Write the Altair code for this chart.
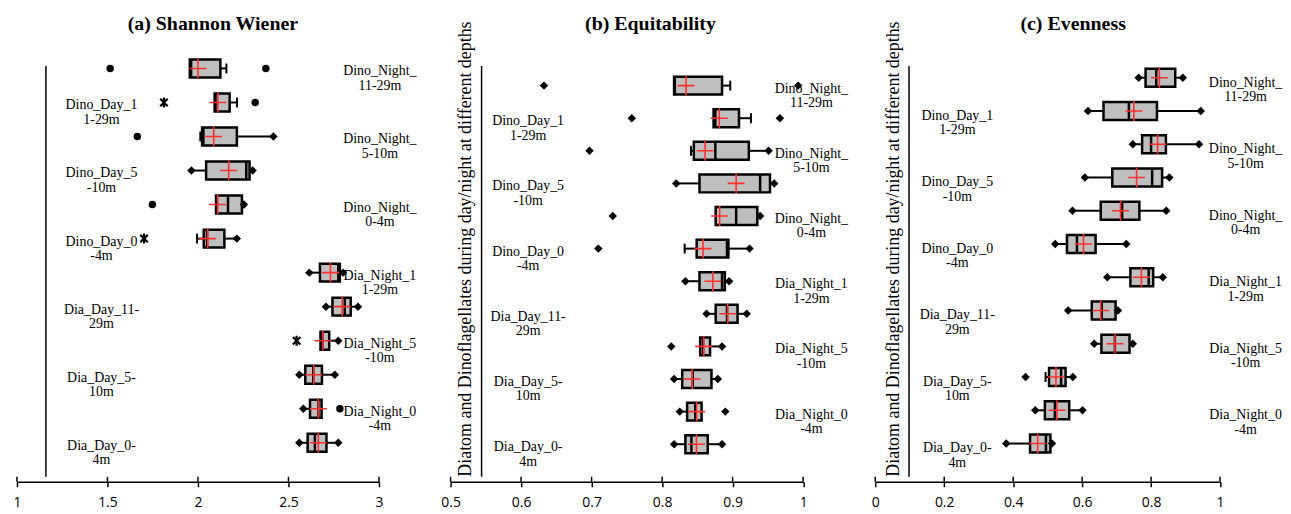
import altair as alt
import pandas as pd

# ---------------- data ----------------
ROWS = ["Dino_Night_11-29m", "Dino_Day_11-29m", "Dino_Night_5-10m", "Dino_Day_5-10m",
        "Dino_Night_0-4m", "Dino_Day_0-4m", "Dia_Night_11-29m", "Dia_Day_11-29m",
        "Dia_Night_5-10m", "Dia_Day_5-10m", "Dia_Night_0-4m", "Dia_Day_0-4m"]
LABEL_LINE1 = ["Dino_Night_", "Dino_Day_1", "Dino_Night_", "Dino_Day_5", "Dino_Night_", "Dino_Day_0",
               "Dia_Night_1", "Dia_Day_11-", "Dia_Night_5", "Dia_Day_5-", "Dia_Night_0", "Dia_Day_0-"]
LABEL_LINE2 = ["11-29m", "1-29m", "5-10m", "-10m", "0-4m", "-4m",
               "1-29m", "29m", "-10m", "10m", "-4m", "4m"]

# (a) Shannon Wiener
SW_LO = [1.955, 2.092, 2.013, 1.964, 2.100, 1.995, 2.615, 2.707, 2.677, 2.560, 2.582, 2.560]
SW_LO_END = ["", "", "cap", "diamond", "", "cap", "diamond", "diamond", "", "diamond", "diamond", "diamond"]
SW_Q1 = [1.955, 2.092, 2.023, 2.045, 2.100, 2.032, 2.674, 2.743, 2.677, 2.593, 2.619, 2.606]
SW_MED = [1.962, 2.097, 2.030, 2.267, 2.166, 2.050, 2.775, 2.811, 2.688, 2.637, 2.665, 2.646]
SW_Q3 = [2.124, 2.175, 2.215, 2.285, 2.243, 2.146, 2.784, 2.844, 2.725, 2.685, 2.683, 2.710]
SW_HI = [2.157, 2.216, 2.417, 2.302, 2.254, 2.215, 2.802, 2.884, 2.775, 2.756, 2.683, 2.775]
SW_HI_END = ["cap", "cap", "diamond", "diamond", "diamond", "diamond", "diamond", "diamond",
             "diamond", "diamond", "", "diamond"]
SW_MEAN = [2.000, 2.110, 2.087, 2.170, 2.109, 2.054, 2.732, 2.797, 2.690, 2.640, 2.665, 2.665]
SW_OUT_ROW = [0, 0, 1, 1, 2, 4, 5, 8, 10]
SW_OUT_VAL = [1.515, 2.375, 1.812, 2.316, 1.665, 1.748, 1.702, 2.545, 2.784]
SW_OUT_SHAPE = ["circle", "circle", "star", "circle", "circle", "circle", "star", "star", "circle"]

# (b) Equitability
EQ_LO = [0.817, 0.873, 0.841, 0.820, 0.876, 0.832, 0.833, 0.863, 0.854, 0.817, 0.825, 0.817]
EQ_LO_END = ["", "", "cap", "diamond", "", "cap", "diamond", "diamond", "", "diamond", "diamond", "diamond"]
EQ_Q1 = [0.817, 0.873, 0.845, 0.853, 0.876, 0.849, 0.853, 0.876, 0.854, 0.8285, 0.8355, 0.833]
EQ_MED = [0.818, 0.8755, 0.8755, 0.939, 0.905, 0.892, 0.885, 0.892, 0.858, 0.8435, 0.847, 0.8416]
EQ_Q3 = [0.885, 0.909, 0.923, 0.953, 0.935, 0.894, 0.889, 0.907, 0.868, 0.870, 0.856, 0.8647]
EQ_HI = [0.8966, 0.926, 0.951, 0.959, 0.939, 0.924, 0.895, 0.920, 0.885, 0.879, 0.856, 0.885]
EQ_HI_END = ["cap", "cap", "diamond", "diamond", "diamond", "diamond", "diamond", "diamond",
             "diamond", "diamond", "", "diamond"]
EQ_MEAN = [0.834, 0.881, 0.861, 0.905, 0.8816, 0.858, 0.872, 0.893, 0.859, 0.8426, 0.849, 0.8487]
EQ_OUT_ROW = [0, 0, 1, 1, 2, 4, 5, 8, 10]
EQ_OUT_VAL = [0.6325, 0.993, 0.757, 0.967, 0.697, 0.730, 0.7096, 0.813, 0.8896]
EQ_OUT_SHAPE = ["diamond"] * 9

# (c) Evenness
EV_LO = [0.764, 0.617, 0.747, 0.608, 0.572, 0.522, 0.673, 0.5596, 0.635, 0.494, 0.464, 0.380]
EV_LO_END = ["diamond"] * 9 + ["cap", "diamond", "diamond"]
EV_Q1 = [0.784, 0.662, 0.774, 0.6875, 0.654, 0.556, 0.740, 0.628, 0.656, 0.504, 0.492, 0.449]
EV_MED = [0.815, 0.7356, 0.800, 0.803, 0.716, 0.585, 0.793, 0.657, 0.695, 0.539, 0.521, 0.495]
EV_Q3 = [0.870, 0.817, 0.843, 0.832, 0.766, 0.639, 0.806, 0.697, 0.7375, 0.552, 0.5625, 0.508]
EV_HI = [0.892, 0.944, 0.939, 0.853, 0.844, 0.728, 0.834, 0.704, 0.747, 0.573, 0.601, 0.5125]
EV_HI_END = ["diamond"] * 12
EV_MEAN = [0.824, 0.750, 0.819, 0.758, 0.7115, 0.604, 0.772, 0.654, 0.695, 0.524, 0.527, 0.471]
EV_OUT_ROW = [9]
EV_OUT_VAL = [0.436]
EV_OUT_SHAPE = ["diamond"]

TICKS_A = [1, 1.5, 2, 2.5, 3]
TICKS_B = [0.5, 0.6, 0.7, 0.8, 0.9, 1]
TICKS_C = [0, 0.2, 0.4, 0.6, 0.8, 1]

TITLES = ["(a) Shannon Wiener", "(b) Equitability", "(c) Evenness"]
Y_TITLE = "Diatom and Dinoflagellates during day/night at different depths"

# ---------------- styling ----------------
RED = "#ff3030"
BOX_FILL = "#bfbfbf"
SERIF = "Liberation Serif"
H = 423
STAR = "M-0.75,-0.75L0.75,0.75M-0.75,0.75L0.75,-0.75M0,-1L0,1"
CROSS = "M-0.85,0L0.85,0M0,-1L0,1"


def panel(title, title_x, lo, lo_end, q1, med, q3, hi, hi_end, mean, o_row, o_val, o_shape,
          domain, ticks, ymax, cross_x, lab_left, lab_right, lab_dy, width, ytitle_x=None):
    n = len(ROWS)
    ys = [n - i for i in range(n)]
    df = pd.DataFrame({"row": ROWS, "y": ys, "lo": lo, "q1": q1, "med": med, "q3": q3,
                       "hi": hi, "mean": mean, "lo_end": lo_end, "hi_end": hi_end})
    xs = alt.Scale(domain=domain, nice=False, zero=False)
    ysc = alt.Scale(domain=[0, ymax], nice=False, zero=True)
    xaxis = alt.Axis(values=ticks, format="~g", title=None, grid=False,
                     tickSize=5, tickWidth=1.5, tickColor="black",
                     domainColor="black", domainWidth=1.5,
                     labelFont="Open Sans", labelFontSize=14, labelColor="black",
                     labelPadding=9, labelFlush=False)

    def X(f):
        return alt.X(f, type="quantitative", scale=xs, axis=xaxis)

    def Y(f):
        return alt.Y(f, type="quantitative", scale=ysc, axis=None)

    base = alt.Chart(df)

    w_lo = base.transform_filter("datum.lo < datum.q1").mark_rule(
        color="black", strokeWidth=2).encode(x=X("lo"), x2="q1", y=Y("y"))
    w_hi = base.transform_filter("datum.hi > datum.q3").mark_rule(
        color="black", strokeWidth=2).encode(x=X("q3"), x2="hi", y=Y("y"))

    ends = pd.DataFrame({
        "y": ys + ys,
        "v": list(lo) + list(hi),
        "kind": list(lo_end) + list(hi_end),
    })
    caps = alt.Chart(ends[ends.kind == "cap"]).mark_tick(
        orient="vertical", size=10, thickness=2, color="black", opacity=1).encode(
        x=X("v"), y=Y("y"))
    dias = alt.Chart(ends[ends.kind == "diamond"]).mark_point(
        shape="diamond", filled=True, size=72, color="black", opacity=1).encode(
        x=X("v"), y=Y("y"))

    box = base.mark_bar(size=18, fill=BOX_FILL, stroke="black", strokeWidth=2.5).encode(
        x=X("q1"), x2="q3", y=Y("y"))
    median = base.mark_tick(orient="vertical", size=18, thickness=2.5,
                            color="black", opacity=1).encode(x=X("med"), y=Y("y"))
    mean_m = base.mark_point(shape=CROSS, size=400, filled=False, color=RED,
                             strokeWidth=1.6, opacity=1).encode(x=X("mean"), y=Y("y"))

    out = pd.DataFrame({"y": [ys[r] for r in o_row], "v": o_val, "shape": o_shape})
    layers = [w_lo, w_hi, box, median, caps, dias, mean_m]
    if (out["shape"] == "circle").any():
        layers.append(alt.Chart(out[out["shape"] == "circle"]).mark_point(
            shape="circle", filled=True, size=56, color="black", opacity=1).encode(
            x=X("v"), y=Y("y")))
    if (out["shape"] == "diamond").any():
        layers.append(alt.Chart(out[out["shape"] == "diamond"]).mark_point(
            shape="diamond", filled=True, size=72, color="black", opacity=1).encode(
            x=X("v"), y=Y("y")))
    if (out["shape"] == "star").any():
        layers.append(alt.Chart(out[out["shape"] == "star"]).mark_point(
            shape=STAR, filled=False, size=100, color="black", strokeWidth=2.2, opacity=1).encode(
            x=X("v"), y=Y("y")))

    labs = pd.DataFrame({
        "y": ys,
        "lx": [lab_right if "Night" in r else lab_left for r in ROWS],
        "t": [a + "\n" + b for a, b in zip(LABEL_LINE1, LABEL_LINE2)],
    })
    layers.append(alt.Chart(labs).mark_text(
        font=SERIF, fontSize=14, lineHeight=14.5, align="center", baseline="middle",
        dy=lab_dy, color="black", lineBreak="\n").encode(x=X("lx"), y=Y("y"), text="t:N"))

    vline = pd.DataFrame({"x": [cross_x], "y0": [0], "y1": [ymax]})
    layers.append(alt.Chart(vline).mark_rule(color="black", strokeWidth=1.5).encode(
        x=X("x"), y=Y("y0"), y2="y1"))

    tk = pd.DataFrame({"t": ticks})
    layers.append(alt.Chart(tk).mark_rule(color="black", strokeWidth=1.5).encode(
        x=X("t"), y=alt.value(H), y2=alt.value(H - 5)))

    if ytitle_x is not None:
        layers.append(alt.Chart(pd.DataFrame({"t": [Y_TITLE]})).mark_text(
            font=SERIF, fontSize=18, angle=270, align="center", baseline="middle",
            color="black").encode(x=alt.value(ytitle_x), y=alt.value(189), text="t:N"))

    # panel title (as text so that it sits at a fixed distance above the plot)
    layers.append(alt.Chart(pd.DataFrame({"t": [title]})).mark_text(
        font=SERIF, fontSize=20, fontWeight="bold", align="center", baseline="alphabetic",
        color="black").encode(x=alt.value(title_x), y=alt.value(-31), text="t:N"))

    return alt.layer(*layers).properties(width=width, height=H)


pa = panel(TITLES[0], 197, SW_LO, SW_LO_END, SW_Q1, SW_MED, SW_Q3, SW_HI, SW_HI_END,
           SW_MEAN, SW_OUT_ROW, SW_OUT_VAL, SW_OUT_SHAPE,
           [1, 3], TICKS_A, 12.07, 1.16, 1.467, 3.005, 3, 364)
pb = panel(TITLES[1], 201, EQ_LO, EQ_LO_END, EQ_Q1, EQ_MED, EQ_Q3, EQ_HI, EQ_HI_END,
           EQ_MEAN, EQ_OUT_ROW, EQ_OUT_VAL, EQ_OUT_SHAPE,
           [0.5, 1], TICKS_B, 12.6, 0.544, 0.61, 1.0117, 3, 354.5, ytitle_x=16)
pc = panel(TITLES[2], 199, EV_LO, EV_LO_END, EV_Q1, EV_MED, EV_Q3, EV_HI, EV_HI_END,
           EV_MEAN, EV_OUT_ROW, EV_OUT_VAL, EV_OUT_SHAPE,
           [0, 1], TICKS_C, 12.35, 0.098, 0.238, 1.074, 5, 346.7, ytitle_x=19)

chart = alt.hconcat(pa, pb, pc, spacing=72, bounds="flush").properties(
    padding={"left": 4, "top": 5, "right": 0, "bottom": 0},
    background="white",
).configure_view(stroke=None)

chart.save("out.html", embed_options={"renderer": "svg", "actions": False})
